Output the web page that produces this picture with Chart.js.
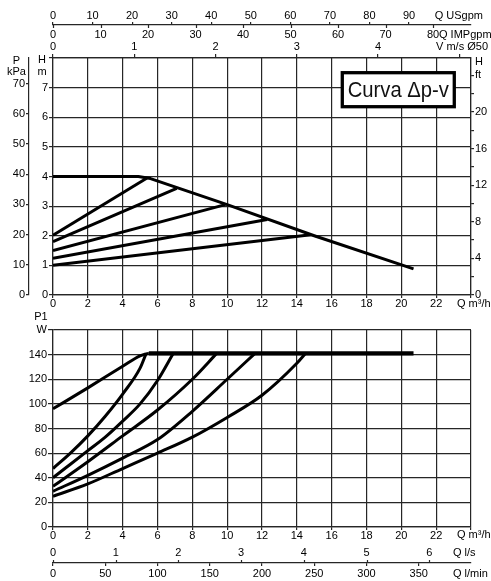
<!DOCTYPE html>
<html><head><meta charset="utf-8">
<script src="https://cdn.jsdelivr.net/npm/chart.js@4.4.1/dist/chart.umd.min.js"></script>
<style>
html,body{margin:0;padding:0;background:#fff;width:491px;height:581px;overflow:hidden;}
canvas{position:absolute;left:0;}
#c1{top:0;}
#c2{top:305px;}
</style></head><body>
<canvas id="c1" width="491" height="310"></canvas>
<canvas id="c2" width="491" height="276"></canvas>
<script>
// ---------- DATA ----------
// Head curves (H in m vs Q in m³/h)
const headMaxQ = [0, 4.9, 5.6, 10, 15, 20.7];
const headMaxH = [4.0, 4.0, 3.93, 3.05, 2.0, 0.88];
// Δp-v lines: start at Q=0, end on the max curve
const dpvStartH = [2.02, 1.8, 1.5, 1.24, 1.0];
const dpvEndQ   = [5.4, 7.1, 9.9, 12.3, 14.8];
const dpvEndH   = [3.95, 3.6, 3.05, 2.55, 2.03];

// Power curves (P1 in W vs Q in m³/h)
const powAQ = [0, 2, 4, 5, 5.5, 20.7];
const powAP = [96, 113, 130.5, 139, 141, 141];
const powBQ = [0, 1, 2, 3, 4, 5, 5.35];
const powBP = [47.5, 60, 74, 90, 108, 129, 141];
const powCQ = [0, 1, 2, 3, 4, 5, 6, 6.9];
const powCP = [40, 51, 62, 73, 86, 100, 119, 141];
const powDQ = [0, 2, 4, 6, 8, 9.4];
const powDP = [33, 53, 74, 95, 120, 141];
const powEQ = [0, 2, 4, 6, 8, 10, 11.6];
const powEP = [29, 42, 56, 71, 94, 120, 141];
const powFQ = [0, 2, 4, 6, 8, 10, 12, 14, 14.5];
const powFP = [25, 35, 47.5, 60, 73, 89, 107, 133, 141];

// Tick values
const qTicks    = [0, 2, 4, 6, 8, 10, 12, 14, 16, 18, 20, 22, 24];
const hTicks    = [0, 1, 2, 3, 4, 5, 6, 7, 8];
const kpaTicks  = [0, 10, 20, 30, 40, 50, 60, 70];
const ftTicks   = [0, 2, 4, 6, 8, 10, 12, 14, 16, 18, 20, 22, 24];
const vTicks    = [0, 1, 2, 3, 4, 5];
const impTicks  = [0, 10, 20, 30, 40, 50, 60, 70, 80];
const usTicks   = [0, 10, 20, 30, 40, 50, 60, 70, 80, 90];
const pTicks    = [0, 20, 40, 60, 80, 100, 120, 140, 160];
const lsTicks   = [0, 1, 2, 3, 4, 5, 6];
const lminTicks = [0, 50, 100, 150, 200, 250, 300, 350];

// Unit conversions (m³/h per unit)
const Q_MAX = 24;
const M3H_PER_USGPM = 0.227125;
const M3H_PER_IMPGPM = 0.272765;
const M3H_PER_MS = 4.665;
const M3H_PER_LS = 3.6;
const M3H_PER_LMIN = 0.06;
const H_MAX = 8;
const KPA_PER_M = 9.80665;
const FT_MAX = 25.9;

// ---------- STYLE ----------
const INK = '#000';
const LINE = '#262626';
const GW = 1.2;
const FONT = { family: "'Liberation Sans', Arial, Helvetica, sans-serif", size: 11, lineHeight: 1 };
const TXT = "11px 'Liberation Sans', Arial, sans-serif";

function pts(xs, ys) { return xs.map((x, i) => ({ x: x, y: ys[i] })); }
function ticksAt(vals) { return s => { s.ticks = vals.map(v => ({ value: v })); }; }

function scaleOpts(o) {
  const horiz = o.pos === 'top' || o.pos === 'bottom';
  const marks = o.marks !== false;
  const label = o.label || (v => String(v));
  return {
    type: 'linear', axis: horiz ? 'x' : 'y', position: o.pos, weight: o.weight || 0,
    min: o.min, max: o.max,
    afterBuildTicks: ticksAt(o.ticks),
    afterFit: s => { if (horiz) s.height = o.size; else s.width = o.size; },
    ticks: { font: FONT, color: INK, padding: o.pad, autoSkip: false, maxRotation: 0, minRotation: 0,
             includeBounds: false, callback: v => label(v) },
    grid: { display: marks || !!o.area, drawOnChartArea: !!o.area, drawTicks: marks, tickLength: o.tl || 0,
            color: LINE, lineWidth: GW, tickColor: LINE, tickWidth: GW },
    border: { display: o.border !== false, color: LINE, width: GW }
  };
}

function makeDecor(cfg) {
  return {
    id: 'decor',
    afterDraw(chart) {
      const ctx = chart.ctx;
      ctx.save();
      ctx.strokeStyle = LINE; ctx.lineWidth = GW;
      (cfg.tickMarks || []).forEach(m => {
        const s = chart.scales[m.scale];
        const yb = m.base(chart);
        m.values.forEach(v => {
          const x = Math.round(s.getPixelForValue(v)) + 0.5;
          ctx.beginPath(); ctx.moveTo(x, yb); ctx.lineTo(x, yb + m.len); ctx.stroke();
        });
      });
      if (cfg.box) {
        const b = cfg.box, xs = chart.scales.x, ys = chart.scales.y;
        const x1 = xs.getPixelForValue(b.q[0]), x2 = xs.getPixelForValue(b.q[1]);
        const y1 = ys.getPixelForValue(b.h[0]), y2 = ys.getPixelForValue(b.h[1]);
        ctx.fillStyle = '#fff';
        ctx.fillRect(x1, y1, x2 - x1, y2 - y1);
        ctx.strokeStyle = '#000'; ctx.lineWidth = 3.3;
        ctx.strokeRect(x1, y1, x2 - x1, y2 - y1);
        ctx.save();
        ctx.translate((x1 + x2) / 2, ys.getPixelForValue(b.baseH));
        ctx.scale(b.sx, 1);
        ctx.fillStyle = '#111'; ctx.font = b.font; ctx.textAlign = 'center'; ctx.textBaseline = 'alphabetic';
        ctx.fillText(b.text, 0, 0);
        ctx.restore();
      }
      ctx.fillStyle = INK; ctx.textBaseline = 'middle';
      (cfg.texts || []).forEach(t => {
        ctx.font = t.font || TXT; ctx.textAlign = t.align || 'left';
        ctx.fillText(t.text, t.x, t.y);
      });
      ctx.restore();
    }
  };
}

function lineDs(data, extra) {
  return Object.assign({ data: data, borderColor: '#000', borderWidth: 3, pointRadius: 0, fill: false,
    tension: 0, borderJoinStyle: 'round', borderCapStyle: 'butt' }, extra || {});
}

const common = {
  responsive: false, maintainAspectRatio: false, devicePixelRatio: 1, animation: false, events: [],
  plugins: { legend: { display: false }, tooltip: { enabled: false } }
};

// ---------- TOP CHART (head) ----------
const topDatasets = [lineDs(pts(headMaxQ, headMaxH))];
dpvStartH.forEach((h0, i) => {
  topDatasets.push(lineDs([{ x: 0, y: h0 }, { x: dpvEndQ[i], y: dpvEndH[i] }]));
});

new Chart(document.getElementById('c1'), {
  type: 'line',
  data: { datasets: topDatasets },
  options: Object.assign({}, common, {
    layout: { padding: 0 },
    scales: {
      x:   scaleOpts({ pos: 'bottom', min: 0, max: Q_MAX, ticks: qTicks, size: 15, tl: 3, pad: 0.5, area: true,
                       label: v => v === 24 ? '' : String(v) }),
      y:   scaleOpts({ pos: 'left', min: 0, max: H_MAX, ticks: hTicks, size: 24, tl: 4, pad: 1, area: true,
                       label: v => v === 8 ? '' : String(v) }),
      kpa: scaleOpts({ pos: 'left', weight: 1, min: 0, max: H_MAX * KPA_PER_M, ticks: kpaTicks, size: 29, tl: 3, pad: 1 }),
      ft:  scaleOpts({ pos: 'right', min: 0, max: FT_MAX, ticks: ftTicks, size: 20, tl: 3, pad: 1,
                       label: v => v === 24 ? 'ft' : (v % 4 === 0 ? String(v) : '') }),
      vms: scaleOpts({ pos: 'top', weight: 0, min: 0, max: Q_MAX / M3H_PER_MS, ticks: vTicks, size: 17, tl: 4, pad: 1.5,
                       label: v => v === 5 ? '' : String(v) }),
      imp: scaleOpts({ pos: 'top', weight: 1, min: 0, max: Q_MAX / M3H_PER_IMPGPM, ticks: impTicks, size: 16, pad: 0.5,
                       marks: false, border: false }),
      us:  scaleOpts({ pos: 'top', weight: 2, min: 0, max: Q_MAX / M3H_PER_USGPM, ticks: usTicks, size: 25, tl: 3, pad: 0.5 })
    }
  }),
  plugins: [makeDecor({
    tickMarks: [{ scale: 'imp', values: impTicks, len: 3, base: c => c.scales.us.bottom }],
    box: { q: [16.61, 23.04], h: [7.504, 6.356], baseH: 6.694, text: 'Curva Δp-v', sx: 0.92,
           font: "22px 'Liberation Sans', Arial, sans-serif" },
    texts: [
      { text: 'Q USgpm', x: 483, y: 16, align: 'right' },
      { text: 'Q IMPgpm', x: 439, y: 35 },
      { text: 'V m/s Ø50', x: 488, y: 47, align: 'right' },
      { text: 'Q m³/h', x: 457, y: 304 },
      { text: 'H', x: 475, y: 61.5 },
      { text: 'P', x: 16.5, y: 61, align: 'center' },
      { text: 'kPa', x: 16.5, y: 72, align: 'center' },
      { text: 'H', x: 42, y: 60, align: 'center' },
      { text: 'm', x: 42, y: 71.5, align: 'center' }
    ]
  })]
});

// ---------- BOTTOM CHART (power) ----------
const mono = { cubicInterpolationMode: 'monotone' };
const botDatasets = [
  lineDs(pts(powAQ, powAP), Object.assign({}, mono, { segment: { borderWidth: c => c.p0.parsed.x >= 5.5 ? 4.2 : 3 } })),
  lineDs(pts(powBQ, powBP), mono),
  lineDs(pts(powCQ, powCP), mono),
  lineDs(pts(powDQ, powDP), mono),
  lineDs(pts(powEQ, powEP), mono),
  lineDs(pts(powFQ, powFP), mono)
];

new Chart(document.getElementById('c2'), {
  type: 'line',
  data: { datasets: botDatasets },
  options: Object.assign({}, common, {
    layout: { padding: { top: 25, right: 20, left: 0, bottom: 0 } },
    scales: {
      x:    scaleOpts({ pos: 'bottom', weight: 0, min: 0, max: Q_MAX, ticks: qTicks, size: 17, tl: 3, pad: 0, area: true,
                        label: v => v === 24 ? '' : String(v) }),
      y:    scaleOpts({ pos: 'left', min: 0, max: 160, ticks: pTicks, size: 53, tl: 5, pad: 1, area: true,
                        label: v => v === 160 ? 'W' : String(v) }),
      ls:   scaleOpts({ pos: 'bottom', weight: 1, min: 0, max: Q_MAX / M3H_PER_LS, ticks: lsTicks, size: 19, pad: 3.2,
                        marks: false, border: false }),
      lmin: scaleOpts({ pos: 'bottom', weight: 2, min: 0, max: Q_MAX / M3H_PER_LMIN, ticks: lminTicks, size: 18, tl: 3, pad: 2.5 })
    }
  }),
  plugins: [makeDecor({
    tickMarks: [{ scale: 'ls', values: lsTicks, len: -3, base: c => c.scales.lmin.top }],
    texts: [
      { text: 'P1', x: 41, y: 11.7, align: 'center' },
      { text: 'Q m³/h', x: 457, y: 230 },
      { text: 'Q l/s', x: 453, y: 247.7 },
      { text: 'Q l/min', x: 453, y: 269 }
    ]
  })]
});
</script>
</body></html>
